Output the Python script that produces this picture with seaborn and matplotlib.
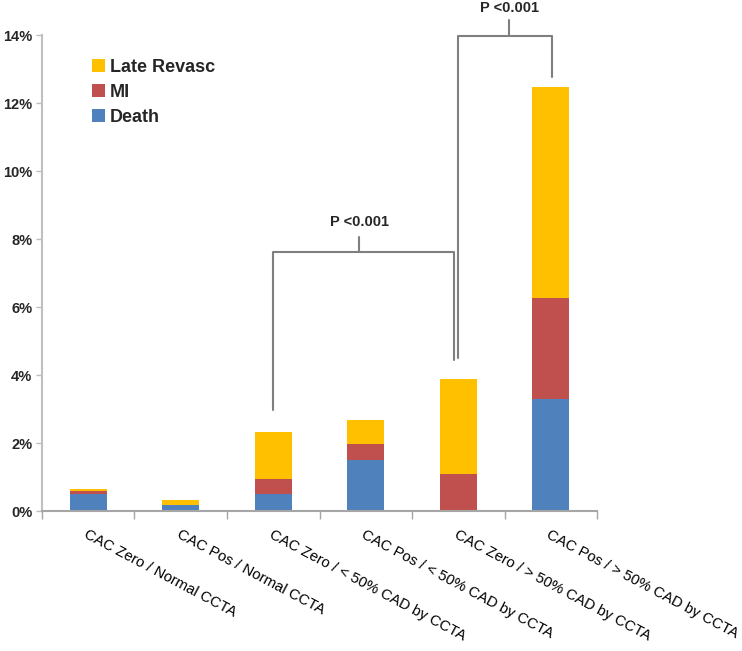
import pandas as pd
import seaborn as sns
import matplotlib.pyplot as plt
from matplotlib.patches import Patch
from matplotlib.ticker import FuncFormatter, FixedLocator

# Data (event rates in %)
categories = ['CAC Zero / Normal CCTA', 'CAC Pos / Normal CCTA',
              'CAC Zero / < 50% CAD by CCTA', 'CAC Pos / < 50% CAD by CCTA',
              'CAC Zero / > 50% CAD by CCTA', 'CAC Pos / > 50% CAD by CCTA']
death = [0.50, 0.18, 0.49, 1.49, 0.00, 3.29]
mi = [0.08, 0.01, 0.45, 0.49, 1.09, 2.98]
late_revasc = [0.07, 0.13, 1.39, 0.71, 2.80, 6.21]

colors = {'Death': '#4F81BD', 'MI': '#C0504D', 'Late Revasc': '#FFC000'}

df = pd.DataFrame({'category': categories, 'Death': death, 'MI': mi, 'Late Revasc': late_revasc})
df['top_mi'] = df['Death'] + df['MI']
df['top_late'] = df['top_mi'] + df['Late Revasc']

sns.set_style('white')
plt.rcParams['font.family'] = ['Liberation Sans', 'DejaVu Sans']

fig = plt.figure(figsize=(7.42, 6.51), dpi=100)
ax = fig.add_axes([0.0566, 0.215, 0.748, 0.731])

# stacked bars: draw cumulative totals, tallest first
for col, key in [('top_late', 'Late Revasc'), ('top_mi', 'MI'), ('Death', 'Death')]:
    sns.barplot(data=df, x='category', y=col, color=colors[key], saturation=1,
                width=0.4, linewidth=0, ax=ax)

ax.set_xlim(-0.5, 5.5)
ax.set_ylim(0, 14)
ax.set_xlabel('')
ax.set_ylabel('')

# y axis
ax.set_yticks(range(0, 15, 2))
ax.yaxis.set_major_formatter(FuncFormatter(lambda v, p: '%d%%' % v))
for lab in ax.get_yticklabels():
    lab.set_fontweight('bold')
    lab.set_fontsize(10.5)
ax.tick_params(axis='y', which='major', left=True, length=4, width=1, color='#BFBFBF', pad=3)

# x axis: labels at centers, tick marks at boundaries
ax.xaxis.set_minor_locator(FixedLocator([i - 0.5 for i in range(7)]))
ax.tick_params(axis='x', which='minor', bottom=True, length=6, width=1, color='#A6A6A6')
ax.tick_params(axis='x', which='major', bottom=False, length=0, pad=12)
ax.set_xticks(range(len(categories)))
ax.set_xticklabels(categories, rotation=-28, ha='left', va='top',
                   rotation_mode='anchor', fontsize=10.7, color='black')

sns.despine(ax=ax, top=True, right=True)
ax.spines['left'].set_color('#BFBFBF')
ax.spines['left'].set_linewidth(1.5)
ax.spines['bottom'].set_color('#A6A6A6')
ax.spines['bottom'].set_linewidth(1.5)

# significance brackets
lc = '#7F7F7F'
lw = 1.5
ax.plot([2.0, 2.0, 3.95, 3.95], [2.97, 7.62, 7.62, 4.44], color=lc, lw=lw, clip_on=False)
ax.plot([2.93, 2.93], [7.62, 8.06], color=lc, lw=lw, clip_on=False)
ax.text(2.93, 8.5, 'P <0.001', ha='center', va='center', fontsize=10.5, fontweight='bold')

ax.plot([4.0, 4.0, 5.01, 5.01], [4.5, 13.97, 13.97, 12.76], color=lc, lw=lw, clip_on=False)
ax.plot([4.55, 4.55], [13.97, 14.44], color=lc, lw=lw, clip_on=False)
ax.text(4.55, 14.8, 'P <0.001', ha='center', va='center', fontsize=10.5, fontweight='bold', clip_on=False)

# legend
handles = [Patch(facecolor=colors[k], edgecolor='none', label=k) for k in ['Late Revasc', 'MI', 'Death']]
leg = ax.legend(handles=handles, loc='upper left', bbox_to_anchor=(0.06, 0.985), frameon=False,
                handlelength=0.75, handleheight=0.75, handletextpad=0.25, labelspacing=0.45,
                prop={'weight': 'bold', 'size': 13})

fig.savefig('out.png', dpi=100)
